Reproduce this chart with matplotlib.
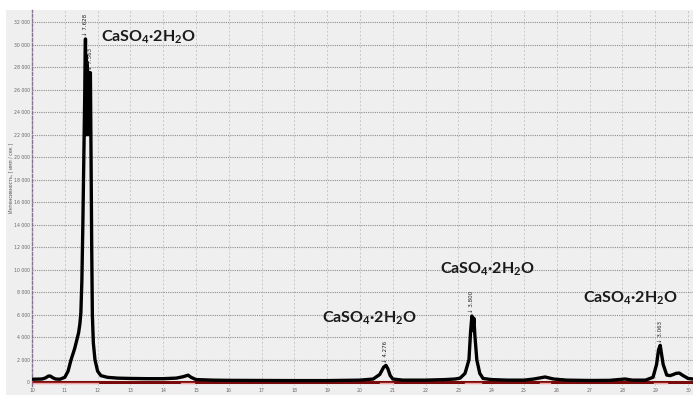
import numpy as np
import matplotlib.pyplot as plt
from matplotlib.patches import Rectangle
from matplotlib.ticker import FuncFormatter, MultipleLocator

# 2-theta (deg) and intensity (counts/s)
two_theta = [10.0, 10.3, 10.4, 10.5, 10.56, 10.63, 10.72, 10.85, 11.0, 11.1, 11.19,
             11.3, 11.36, 11.42, 11.46, 11.49, 11.52, 11.55, 11.58, 11.61, 11.63,
             11.64, 11.65, 11.66, 11.67, 11.68, 11.69, 11.70, 11.71, 11.72, 11.73,
             11.74, 11.75, 11.76, 11.77, 11.78,
             11.80, 11.82, 11.84, 11.87, 11.92, 12.0, 12.1, 12.3, 12.6, 13.0, 13.5,
             14.0, 14.4, 14.6, 14.76, 14.85, 15.0, 15.5, 16.0, 17.0, 18.0, 19.0,
             19.5, 20.0, 20.4, 20.6, 20.72, 20.79, 20.85, 20.92, 21.0, 21.3, 22.0,
             22.6, 22.9, 23.05, 23.2, 23.32, 23.37, 23.41, 23.44, 23.47, 23.5, 23.56,
             23.65, 23.75, 24.0, 24.5, 25.0, 25.3, 25.64, 25.9, 26.3, 27.0, 27.6,
             28.08, 28.3, 28.7, 28.93, 29.04, 29.1, 29.15, 29.24, 29.35, 29.45,
             29.55, 29.63, 29.73, 29.85, 30.0, 30.15]
intensity = [280, 300, 380, 560, 560, 420, 300, 280, 450, 1000, 2000,
             3000, 3700, 4400, 5200, 6200, 9000, 14000, 20000, 26000, 30500,
             22000, 29000, 22500, 28500, 22000, 28000, 22500, 27500, 22000, 27500,
             22500, 27000, 22500, 27500, 27500,
             20000, 12000, 6000, 3500, 2000, 1000, 600, 450, 380, 350, 330,
             330, 380, 500, 640, 450, 250, 200, 180, 170, 160, 160,
             180, 200, 300, 700, 1350, 1510, 1200, 600, 300, 200, 200,
             250, 300, 380, 800, 2000, 4500, 5900, 4600, 5700, 4200, 2000,
             800, 350, 250, 200, 200, 300, 480, 300, 200, 170, 180,
             300, 200, 200, 450, 1600, 2900, 3290, 1600, 650, 600,
             700, 800, 830, 600, 350, 300]

# d-spacing markers (position, height, label)
peak_pos = [11.63, 11.78, 20.79, 23.41, 29.15]
peak_int = [30500, 27500, 1510, 5900, 3290]
peak_text = ["7.628", "7.563", "4.276", "3.800", "3.063"]

# phase labels (x, y)
phase_x = [12.1, 18.85, 22.45, 26.8]
phase_y = [30700, 5700, 10100, 7450]
phase_name = r"CaSO$_\mathbf{4}$·2H$_\mathbf{2}$O"

# reference line segments under the reflexes
ref_segments = [(10.0, 12.0), (14.55, 14.95), (20.6, 21.0), (23.2, 23.7),
                (25.5, 25.8), (28.95, 29.35)]

plt.rcParams["mathtext.fontset"] = "custom"
plt.rcParams["mathtext.bf"] = "Lato:bold"
plt.rcParams["mathtext.rm"] = "Lato"

fig = plt.figure(figsize=(6.93, 3.95), dpi=100)
fig.patch.set_facecolor("white")
fig.add_artist(Rectangle((6 / 693, 0), 1, 1 - 10 / 395, transform=fig.transFigure,
                         facecolor="#efefef", edgecolor="none", zorder=0))

ax = fig.add_axes([32 / 693, 9 / 395, 661 / 693, 376 / 395])
ax.set_facecolor("#efefef")
ax.set_xlim(10, 30.15)
ax.set_ylim(-320, 33070)

ax.yaxis.set_major_locator(MultipleLocator(2000))
ax.xaxis.set_major_locator(MultipleLocator(1))
ax.yaxis.set_major_formatter(FuncFormatter(lambda v, p: f"{int(v):,}".replace(",", " ")))
ax.tick_params(length=0, labelsize=3.3, labelcolor="#666666", pad=1.5)
ax.grid(axis="y", color="#8e8e8e", linestyle=(0, (1, 1)), linewidth=0.8)
ax.grid(axis="x", color="#c8c8c8", linestyle=(0, (2, 2)), linewidth=0.7)
ax.set_axisbelow(True)

for side in ["top", "right", "bottom"]:
    ax.spines[side].set_visible(False)
ax.spines["left"].set_color("#8c6ca0")
ax.spines["left"].set_linestyle((0, (2, 1.5)))
ax.spines["left"].set_linewidth(1.0)

# baseline and reference lines
ax.axhline(0, color="#7a0a0a", linewidth=2.2, zorder=2)
for a, b in ref_segments:
    ax.plot([a, b], [-60, -60], color="#f2a0a0", linewidth=1.0, zorder=2)

ax.plot(two_theta, intensity, color="black", linewidth=2.4, zorder=3,
        solid_joinstyle="round")

for x, y, t in zip(peak_pos, peak_int, peak_text):
    ax.text(x, y + 250, "↓ " + t, rotation=90, ha="center", va="bottom",
            fontsize=4.0, color="#222222", zorder=4)

for x, y in zip(phase_x, phase_y):
    ax.text(x, y, phase_name, fontsize=11.5, fontweight="bold", family="Lato",
            color="#1a1a1a", ha="left", va="center", zorder=5)

fig.text(11 / 693, 0.55, "Интенсивность, [ имп / сек ]", rotation=90,
         fontsize=3.4, color="#555555", ha="center", va="center")

fig.savefig("out.png", dpi=100)
